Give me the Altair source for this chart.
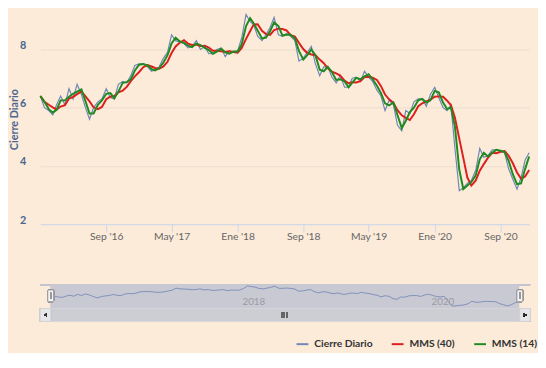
import altair as alt
import pandas as pd

# ---------------- data ----------------
MESES = ["Ene", "Feb", "Mar", "Abr", "May", "Jun", "Jul", "Ago", "Sep", "Oct", "Nov", "Dic"]
ANIOS = [2016, 2017, 2018, 2019, 2020]
DIAS = [1, 16]  # two closes per month

cierre_2016 = [6.4, 6.0, 5.9, 5.75, 6.1, 6.4, 6.1, 6.65, 6.3, 6.8, 6.45, 6.0,
               5.6, 6.0, 6.2, 6.3, 6.65, 6.35, 6.3, 6.8, 6.9, 6.85, 7.1, 7.45]
cierre_2017 = [7.5, 7.5, 7.4, 7.25, 7.3, 7.4, 7.7, 7.9, 8.5, 8.3, 8.25, 8.2,
               8.05, 8.1, 8.3, 8.0, 8.1, 7.85, 7.85, 8.0, 8.05, 7.75, 7.95, 7.9]
cierre_2018 = [7.95, 8.4, 9.2, 8.95, 8.85, 8.45, 8.3, 8.5, 8.75, 9.1, 8.5, 8.45,
               8.55, 8.45, 8.3, 7.6, 7.7, 7.9, 8.1, 7.5, 7.1, 7.4, 7.4, 7.05]
cierre_2019 = [6.85, 7.1, 6.7, 6.7, 7.0, 7.05, 6.9, 7.25, 7.05, 6.9, 6.6, 6.4,
               5.9, 6.25, 6.1, 5.4, 5.2, 5.9, 5.8, 6.2, 6.3, 6.3, 6.05, 6.45]
cierre_2020 = [6.7, 6.35, 6.0, 5.9, 6.1, 4.6, 3.15, 3.25, 3.4, 3.5, 3.85, 4.6,
               4.3, 4.35, 4.55, 4.55, 4.5, 4.45, 3.9, 3.55, 3.2, 3.6, 4.2, 4.45]

SERIES = ["Cierre Diario", "MMS (40)", "MMS (14)"]
COLORES = ["#6f87b5", "#dd1f1f", "#1f8a1f"]
ANCHOS = [1.2, 2, 2]

TICKS_X = [(2016, 9), (2017, 5), (2018, 1), (2018, 9), (2019, 5), (2020, 1), (2020, 9)]
NAV_ETIQUETAS = ["2018", "2020"]
NAV_FECHAS = ["2018-01-01", "2020-01-01"]

fechas = [f"{a}-{m:02d}-{d:02d}" for a in ANIOS for m in range(1, 13) for d in DIAS]
cierre = cierre_2016 + cierre_2017 + cierre_2018 + cierre_2019 + cierre_2020
df = pd.DataFrame({"fecha": fechas, "cierre": cierre})
df_nav_lab = pd.DataFrame({"fecha": NAV_FECHAS, "texto": NAV_ETIQUETAS})

FONT = "Lato"
BG = "#fcebd9"


def dt(y, m, d):
    return alt.DateTime(year=y, month=m, date=d, utc=True)


# ---------------- main chart ----------------
x_main = alt.X(
    "fecha:T",
    scale=alt.Scale(type="utc", domain=[dt(2016, 1, 1), dt(2020, 12, 16)]),
    axis=alt.Axis(
        values=[dt(y, m, 1) for (y, m) in TICKS_X],
        labelExpr="['" + "','".join(MESES) + "'][utcmonth(datum.value)] + \" '\" + utcFormat(datum.value, '%y')",
        title=None, grid=False,
        domainColor="#ccd6eb", tickColor="#ccd6eb", tickSize=8,
        labelPadding=0, labelFont=FONT, labelFontSize=10.5, labelColor="#666666",
    ),
)
y_main = alt.Y(
    "valor:Q",
    scale=alt.Scale(domain=[2, 9.21], nice=False, zero=False),
    axis=alt.Axis(
        values=[2, 4, 6, 8], title="Cierre Diario",
        titleFont=FONT, titleFontSize=11, titleFontWeight="bold", titleColor="#4a6592",
        titlePadding=0,
        labelFont=FONT, labelFontSize=11, labelFontWeight="bold", labelColor="#4a6592",
        labelPadding=15, labelOffset=-4,
        domain=False, ticks=False, grid=True, gridColor="#ecdccd", gridWidth=1,
    ),
)
color = alt.Color(
    "serie:N",
    scale=alt.Scale(domain=SERIES, range=COLORES),
    legend=alt.Legend(
        title=None, orient="none", legendX=260, legendY=329, direction="horizontal",
        columns=3, symbolType="stroke", symbolSize=144, symbolStrokeWidth=2,
        labelFont=FONT, labelFontSize=10.5, labelFontWeight="bold", labelColor="#333333",
        columnPadding=15, labelOffset=5, padding=0,
    ),
)

base = (
    alt.Chart(df)
    .transform_window(mms40="mean(cierre)", frame=[-3, 0], sort=[alt.SortField("fecha")])
    .transform_window(mms14="mean(cierre)", frame=[-1, 0], sort=[alt.SortField("fecha")])
    .transform_fold(["cierre", "mms40", "mms14"], as_=["clave", "valor"])
    .transform_calculate(
        serie="datum.clave == 'cierre' ? 'Cierre Diario' : (datum.clave == 'mms40' ? 'MMS (40)' : 'MMS (14)')"
    )
)

capas = []
for nombre, ancho in zip(SERIES, ANCHOS):
    capas.append(
        base.transform_filter(alt.datum.serie == nombre)
        .mark_line(strokeWidth=ancho)
        .encode(x=x_main, y=y_main, color=color)
    )
main = alt.layer(*capas).properties(width=498, height=214)

# ---------------- navigator ----------------
NW, NH = 499, 38
nav_scale = alt.Scale(type="utc", domain=[dt(2015, 11, 24), dt(2021, 1, 27)])
x_nav = alt.X("fecha:T", scale=nav_scale, axis=None)

nav_outline = alt.Chart(df).mark_rule(color="#c4c4cc", strokeWidth=1).encode(
    x=alt.value(0), x2=alt.value(NW), y=alt.value(0.5))
nav_band = alt.Chart(df).mark_rect(color="#c9c9d4").encode(
    x=alt.X("min(fecha):T", scale=nav_scale, axis=None), x2="max(fecha):T",
    y=alt.value(0.5), y2=alt.value(25))
nav_line = alt.Chart(df).mark_line(color="#7f90b8", strokeWidth=1).encode(
    x=x_nav,
    y=alt.Y("cierre:Q", scale=alt.Scale(domain=[3.0, 9.3], range=[23, 1.5], zero=False, nice=False), axis=None))
nav_labels = alt.Chart(df_nav_lab).mark_text(
    align="left", dx=3, baseline="middle", font=FONT, fontSize=10, color="#9a9aa0").encode(
    x=x_nav, y=alt.value(18), text="texto:N")
scroll_track = alt.Chart(df).mark_rect(color="#dcdce2").encode(
    x=alt.value(0), x2=alt.value(NW), y=alt.value(25), y2=alt.value(NH))
scroll_thumb = alt.Chart(df).mark_rect(color="#cdcdd4").encode(
    x=alt.X("min(fecha):T", scale=nav_scale, axis=None), x2="max(fecha):T",
    y=alt.value(25), y2=alt.value(NH))
btn_l = alt.Chart(df).mark_rect(color="#e6e6ea", stroke="#cccccc", strokeWidth=0.5).encode(
    x=alt.value(0), x2=alt.value(10.5), y=alt.value(25), y2=alt.value(NH))
btn_r = alt.Chart(df).mark_rect(color="#e6e6ea", stroke="#cccccc", strokeWidth=0.5).encode(
    x=alt.value(488.5), x2=alt.value(NW), y=alt.value(25), y2=alt.value(NH))
arr_l = alt.Chart(df).mark_point(shape="triangle-left", filled=True, size=8, color="#333333").encode(
    x=alt.value(5.2), y=alt.value(31.5))
arr_r = alt.Chart(df).mark_point(shape="triangle-right", filled=True, size=8, color="#333333").encode(
    x=alt.value(493.8), y=alt.value(31.5))
grips = [
    alt.Chart(df).mark_rule(color="#666666", strokeWidth=0.7).encode(
        x=alt.value(gx), y=alt.value(29), y2=alt.value(34))
    for gx in (246.0, 248.5, 251.0)
]
handle_l = alt.Chart(df).mark_rect(fill="#f4f4f4", stroke="#999999", strokeWidth=1, cornerRadius=1).encode(
    x=alt.value(7.5), x2=alt.value(13.5), y=alt.value(6), y2=alt.value(18))
handle_r = alt.Chart(df).mark_rect(fill="#f4f4f4", stroke="#999999", strokeWidth=1, cornerRadius=1).encode(
    x=alt.value(485.5), x2=alt.value(491.5), y=alt.value(6), y2=alt.value(18))
hl_l = alt.Chart(df).mark_rule(color="#999999").encode(
    x=alt.value(10.5), y=alt.value(9), y2=alt.value(15))
hl_r = alt.Chart(df).mark_rule(color="#999999").encode(
    x=alt.value(488.5), y=alt.value(9), y2=alt.value(15))

nav = alt.layer(
    nav_outline, nav_band, nav_line, nav_labels, scroll_track, scroll_thumb,
    btn_l, btn_r, arr_l, arr_r, *grips, handle_l, handle_r, hl_l, hl_r,
).properties(width=NW, height=NH)

chart = (
    alt.vconcat(main, nav, spacing=61, bounds="flush")
    .properties(padding=0, background=BG)
    .configure_view(strokeWidth=0)
)

chart.save("out.html", embed_options={"renderer": "svg", "actions": False})
